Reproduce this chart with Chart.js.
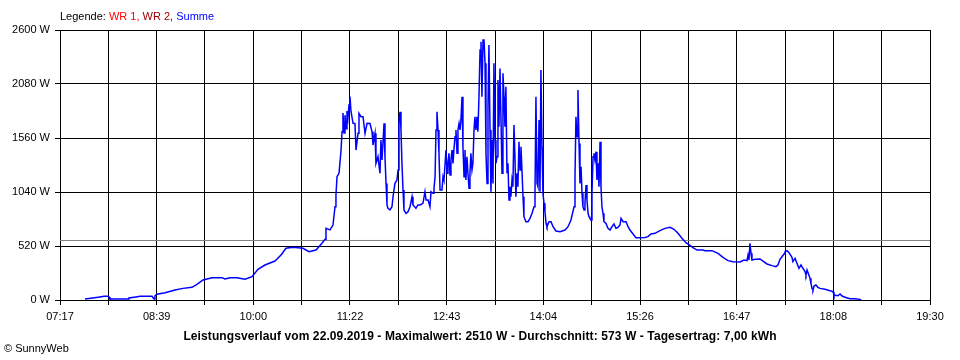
<!DOCTYPE html>
<html><head><meta charset="utf-8">
<script src="https://cdn.jsdelivr.net/npm/chart.js@4/dist/chart.umd.min.js"></script>
<style>
html,body{margin:0;padding:0;background:#fff;}
#wrap{position:relative;width:960px;height:360px;overflow:hidden;}
canvas{position:absolute;left:0;top:0;}
.t{position:absolute;font-family:"Liberation Sans",Arial,sans-serif;font-size:11px;white-space:nowrap;color:#000;line-height:13px;}
</style></head><body>
<div id="wrap">
<canvas id="c" width="960" height="360"></canvas>
<div class="t" id="legend" style="left:60px;top:10px;">Legende: <span style="color:#ff0000">WR 1,</span> <span style="color:#a00000">WR 2,</span> <span style="color:#0000ff">Summe</span></div>
<div class="t" id="title" style="left:0;width:960px;text-align:center;top:330px;font-weight:bold;font-size:12px;letter-spacing:0.1px;">Leistungsverlauf vom 22.09.2019 - Maximalwert: 2510 W - Durchschnitt: 573 W - Tagesertrag: 7,00 kWh</div>
<div class="t" id="copy" style="left:4px;top:342px;">© SunnyWeb</div>
</div>
<script>
// Time axis: minutes since midnight
const xStart = 437;   // 07:17
const xEnd = 1170;    // 19:30
const tickLabels = ['07:17','08:39','10:00','11:22','12:43','14:04','15:26','16:47','18:08','19:30'];
const yTicks = [0, 520, 1040, 1560, 2080, 2600];
const average = 573;

// Summe (W) sample times in minutes since midnight
const times = [
458.1,470.7,474.1,477.4,478.3,479.1,494.3,495.1,501.0,504.4,514.5,516.2,517.0,518.7,525.5,533.9,540.6,548.2,552.4,557.5,
565.1,573.5,576.0,580.2,586.1,592.9,598.8,603.8,609.7,618.1,623.2,627.4,633.3,641.7,646.8,652.7,657.7,660.3,661.1,664.5,
667.0,668.7,669.5,670.4,672.1,673.8,674.6,675.4,676.3,677.1,678.0,678.8,679.6,680.5,681.3,682.2,683.9,685.5,686.4,688.1,
688.9,690.6,692.3,694.0,695.7,698.2,699.9,700.7,702.4,703.2,704.9,706.6,707.4,708.3,710.0,710.8,711.7,712.5,713.3,715.0,
716.7,717.6,719.2,720.9,721.8,722.6,723.5,724.3,725.1,726.0,726.8,728.5,730.2,731.9,733.6,734.4,736.9,738.6,740.3,742.8,
744.5,745.4,747.1,748.7,749.6,751.3,752.1,753.0,753.8,754.6,755.5,756.3,757.2,758.8,759.7,760.5,762.2,763.1,763.9,764.7,
765.6,766.4,767.3,768.1,769.0,769.8,770.6,771.5,772.3,773.2,774.0,774.8,775.7,776.5,777.4,778.2,779.0,779.9,780.7,781.6,
782.4,783.2,784.1,784.9,785.8,786.6,787.4,788.3,789.1,790.0,790.9,791.7,792.5,793.4,794.2,795.1,795.9,796.8,797.6,798.4,
799.3,800.1,801.0,801.8,802.6,803.5,804.3,805.2,806.0,806.8,807.7,808.5,809.4,810.2,811.1,811.9,812.7,813.6,814.4,815.3,
816.1,816.9,817.8,818.6,819.5,820.3,821.1,822.0,822.8,823.7,824.6,825.4,826.2,827.1,827.9,829.6,831.3,833.0,834.7,836.4,
837.2,838.0,838.9,839.7,840.6,841.4,842.2,843.1,843.9,844.8,845.6,846.5,847.3,849.0,850.7,852.4,854.9,858.3,862.5,865.0,
867.5,870.1,870.9,871.7,872.6,873.4,874.3,875.1,876.0,876.8,877.6,878.5,879.3,880.2,881.0,881.9,882.7,883.5,884.4,885.2,
886.1,886.9,887.7,888.6,889.4,890.3,891.1,892.0,892.8,893.6,894.5,895.3,897.0,898.7,900.4,902.1,903.7,905.4,907.1,908.8,
909.7,911.4,913.9,915.6,917.2,919.8,922.3,925.7,929.9,932.4,934.9,938.3,942.5,946.7,951.0,954.3,957.7,961.0,964.4,967.8,
970.3,973.7,978.7,980.4,986.3,991.4,995.6,999.8,1004.0,1009.9,1013.3,1015.8,1016.7,1017.5,1018.3,1019.2,1020.0,1022.6,1026.8,1029.3,
1032.7,1036.9,1040.2,1041.9,1043.6,1045.3,1047.0,1047.8,1049.5,1051.2,1053.7,1054.5,1056.3,1057.9,1059.6,1061.3,1063.0,1064.7,1065.5,1066.4,
1068.9,1069.7,1070.6,1071.4,1072.3,1073.9,1075.6,1077.3,1081.5,1085.7,1088.3,1089.1,1092.5,1094.2,1095.9,1098.4,1102.6,1106.8,1111.0,1111.9
];
const summe = [
10,30,35,35,30,10,10,20,30,36,36,10,40,55,70,96,112,122,150,193,
215,215,202,215,215,200,225,295,337,375,433,498,507,498,465,481,546,584,690,675,
722,898,1011,1187,1223,1444,1620,1800,1608,1780,1650,1820,1750,1880,1958,1813,1701,1700,1444,1605,
1797,1765,1765,1605,1701,1700,1620,1492,1605,1316,1380,1220,1540,1348,1701,1380,1123,915,883,867,
898,995,1123,1155,1252,1733,1813,1637,1316,1059,867,835,850,898,995,915,883,915,915,931,
1043,963,963,898,1043,1027,1075,1187,1637,1813,1637,1412,1059,1059,1187,1155,1444,1220,1316,1412,
1204,1348,1444,1316,1460,1573,1637,1412,1637,1700,1637,1733,1958,1476,1187,1444,1155,1380,1220,1075,
1220,1412,1252,1316,1637,1765,1637,1765,1621,1958,2407,2487,1958,2504,2510,2279,1412,1123,1861,2455,
1637,1043,1540,1123,2279,1540,1316,1380,2118,1669,2230,1765,1220,2183,1958,1669,2054,1220,1316,963,
1091,995,1155,1091,1685,1380,995,1220,1091,1524,1252,1476,1252,995,802,754,754,786,835,898,
1027,1958,1123,1091,1733,1043,2215,1476,1027,931,850,738,706,754,754,706,664,658,674,706,
770,898,1187,1765,1573,2022,1508,1123,1284,1027,898,867,931,1107,963,835,802,786,770,1027,
1380,1412,1348,1428,1155,1316,1091,1524,1091,898,835,754,738,690,674,706,732,690,700,722,
786,754,754,706,674,636,600,600,603,610,636,642,668,690,700,681,642,594,552,526,
504,481,481,475,475,449,411,379,369,366,385,379,433,385,546,449,385,392,395,375,
347,331,321,337,392,417,443,465,475,456,411,369,401,353,305,337,305,273,241,289,
209,160,112,96,135,144,122,112,103,90,80,48,42,58,38,26,13,13,6,0
];
const wr1 = [];
const wr2 = [];

const fontSpec = {family: '"Liberation Sans", Arial, sans-serif', size: 11};
const gridStep = (xEnd - xStart) / 18;

new Chart(document.getElementById('c'), {
  type: 'line',
  data: {
    datasets: [
      {label: 'Durchschnitt', data: [{x: xStart, y: average}, {x: xEnd, y: average}],
       borderColor: '#808080', borderWidth: 1, pointRadius: 0, order: 3},
      {label: 'WR 1', data: wr1, borderColor: '#ff0000', borderWidth: 1, pointRadius: 0},
      {label: 'WR 2', data: wr2, borderColor: '#a00000', borderWidth: 1, pointRadius: 0},
      {label: 'Summe', data: times.map((t, i) => ({x: t, y: summe[i]})),
       borderColor: '#0000ff', borderWidth: 1.5, pointRadius: 0, tension: 0, order: 1}
    ]
  },
  options: {
    responsive: false,
    animation: false,
    events: [],
    layout: {padding: {top: 30, right: 30, left: 0, bottom: 0}},
    plugins: {legend: {display: false}, tooltip: {enabled: false}, title: {display: false}},
    scales: {
      x: {
        type: 'linear', min: xStart, max: xEnd,
        afterBuildTicks: s => { s.ticks = []; for (let i = 0; i <= 18; i++) s.ticks.push({value: xStart + i * gridStep}); },
        afterFit: s => { s.height = 60; },
        ticks: {
          autoSkip: false, maxRotation: 0, minRotation: 0, padding: 5, color: '#000', font: fontSpec,
          callback: (v, i) => (i % 2 === 0 ? tickLabels[i / 2] : '')
        },
        grid: {color: '#000', lineWidth: 1, tickLength: 5, tickColor: '#000', drawTicks: true},
        border: {display: true, color: '#000', width: 1}
      },
      y: {
        min: 0, max: 2600,
        afterBuildTicks: s => { s.ticks = yTicks.map(v => ({value: v})); },
        afterFit: s => { s.width = 60; },
        ticks: {padding: 5, color: '#000', font: fontSpec, callback: v => v + ' W'},
        grid: {color: '#000', lineWidth: 1, tickLength: 5, tickColor: '#000', drawTicks: true},
        border: {display: true, color: '#000', width: 1}
      }
    }
  }
});
</script>
</body></html>
